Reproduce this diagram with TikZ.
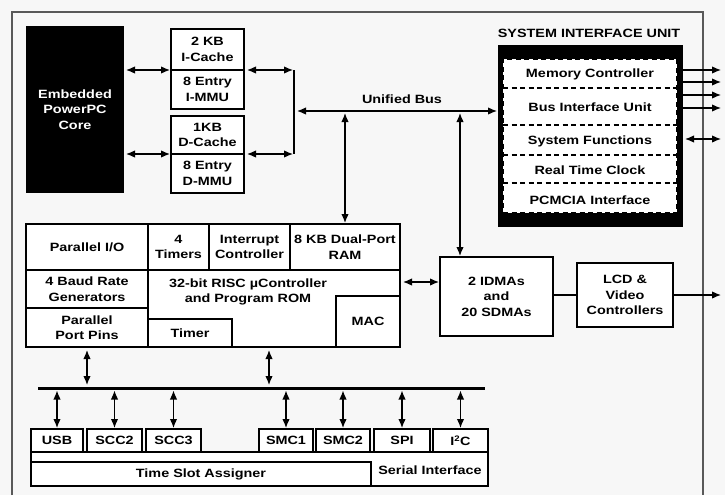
\documentclass[tikz,border=0pt]{standalone}
\usepackage{fontspec}
\setmainfont[FakeStretch=1.2]{Liberation Sans}
\usetikzlibrary{arrows.meta,calc}

\begin{document}
\begin{tikzpicture}[x=1pt,y=-1pt,
  every node/.style={font=\fontsize{12}{15.5}\selectfont\bfseries, align=center, inner sep=0pt, outer sep=0pt},
  box/.style={draw, rectangle, line width=1.3pt, fill=white},
  txt/.style={rectangle},
  conn/.style={line width=1.3pt, {Latex[length=9pt,width=7.5pt]}-{Latex[length=9pt,width=7.5pt]}},
  oneway/.style={line width=1.3pt, -{Latex[length=9pt,width=7.5pt]}},
  frameline/.style={draw=black!65, line width=1.3pt},
  divider/.style={line width=1.3pt, dash pattern=on 5pt off 3.5pt}
]
% canvas
\fill[black!3] (0,0) rectangle (725,495);
\useasboundingbox (0,0) rectangle (725,495);

% chip outline (open at the bottom)
\draw[frameline] (12,495) -- (12,12) -- (703,12) -- (703,495);

% ---------- processor core and caches ----------
\node[box, fill=black, minimum width=96, minimum height=165] (core) at (75,109.5)
  {\textcolor{white}{Embedded}\\\textcolor{white}{PowerPC}\\\textcolor{white}{Core}};

\node[box, minimum width=73, minimum height=41] (icache) at (207.5,49.5) {2 KB\\I-Cache};
\node[box, minimum width=73, minimum height=39] (immu)   at (207.5,89.5) {8 Entry\\I-MMU};
\node[box, minimum width=73, minimum height=38] (dcache) at (207.5,135)  {1KB\\D-Cache};
\node[box, minimum width=73, minimum height=39] (dmmu)   at (207.5,173.5) {8 Entry\\D-MMU};

\draw[conn, shorten <=3pt, shorten >=1pt] (core.east |- icache.south west) -- (icache.south west);
\draw[conn, shorten <=3pt, shorten >=1pt] (core.east |- dcache.south west) -- (dcache.south west);

\coordinate (brT) at (294,70);
\coordinate (brB) at (294,154);
\coordinate (ubL) at (294,111);
\draw[conn, shorten <=3pt, shorten >=1pt] (icache.south east) -- (brT);
\draw[conn, shorten <=3pt, shorten >=1pt] (dcache.south east) -- (brB);
\draw[line width=1.3pt] (brT) -- (brB);

% ---------- system interface unit ----------
\node[txt] (siutitle) at (589,33) {SYSTEM INTERFACE UNIT};
\node[rectangle, fill=black, minimum width=185, minimum height=182] (siu) at (590.5,136) {};
\node[rectangle, fill=white, draw, divider, minimum width=174, minimum height=154] (siuin) at (590,136) {};
\draw[divider] (siuin.west |- 0,88)  -- (siuin.east |- 0,88);
\draw[divider] (siuin.west |- 0,125) -- (siuin.east |- 0,125);
\draw[divider] (siuin.west |- 0,155) -- (siuin.east |- 0,155);
\draw[divider] (siuin.west |- 0,183) -- (siuin.east |- 0,183);
\node[txt] (memctl) at (590,74)  {Memory Controller};
\node[txt] (biu)    at (590,107) {Bus Interface Unit};
\node[txt] (sysfn)  at (590,141) {System Functions};
\node[txt] (rtc)    at (590,170) {Real Time Clock};
\node[txt] (pcmcia) at (590,200) {PCMCIA Interface};

% external pins
\coordinate (pinA) at (721,70);
\coordinate (pinB) at (721,82);
\coordinate (pinC) at (721,95);
\coordinate (pinD) at (721,108);
\coordinate (pinE) at (721,139);
\draw[oneway] (siu.east |- pinA) -- (pinA);
\draw[oneway] (siu.east |- pinB) -- (pinB);
\draw[oneway] (siu.east |- pinC) -- (pinC);
\draw[oneway] (siu.east |- pinD) -- (pinD);
\draw[conn, shorten <=2pt] (siu.east |- pinE) -- (pinE);

% unified bus
\draw[conn, shorten <=3pt, shorten >=1pt] (ubL) -- (ubL -| siu.west);
\node[txt] (ublabel) at (402,99) {Unified Bus};

% ---------- communication processor ----------
\node[box, minimum width=374, minimum height=123] (cpm) at (213,285.5) {};
\node[box, minimum width=122, minimum height=46] (pio)   at (87,247)    {Parallel I/O};
\node[box, minimum width=61,  minimum height=46] (tmr4)  at (178.5,247) {4\\Timers};
\node[box, minimum width=81,  minimum height=46] (intc)  at (249.5,247) {Interrupt\\Controller};
\node[box, minimum width=110, minimum height=46] (ram)   at (345,247)   {8 KB Dual-Port\\RAM};
\node[box, minimum width=122, minimum height=38] (brg)   at (87,289)    {4 Baud Rate\\Generators};
\node[box, minimum width=122, minimum height=39] (ppp)   at (87,327.5)  {Parallel\\Port Pins};
\node[box, minimum width=84,  minimum height=28] (timer) at (190,333)   {Timer};
\node[box, minimum width=64,  minimum height=51] (mac)   at (368,321.5) {MAC};
\node[txt] (risc) at (248,292) {32-bit RISC µController\\and Program ROM};

\coordinate (ub1) at (345,111);
\draw[conn, shorten <=2pt, shorten >=1pt] (ub1) -- (ub1 |- ram.north);

% ---------- DMA and LCD ----------
\node[box, minimum width=113, minimum height=79] (idma) at (496.5,296.5) {2 IDMAs\\and\\20 SDMAs};
\node[box, minimum width=96,  minimum height=64] (lcd)  at (625,295) {LCD \&\\Video\\Controllers};

\coordinate (ub2) at (460,111);
\coordinate (dmaIn) at (403,282);
\draw[conn, shorten <=2pt, shorten >=1pt] (ub2) -- (ub2 |- idma.north);
\draw[conn, shorten <=3pt, shorten >=1pt] (cpm.east |- dmaIn) -- (dmaIn -| idma.west);
\draw[line width=1.3pt] (lcd.west) -- (lcd.west -| idma.east);
\coordinate (pinF) at (721,295);
\draw[oneway] (lcd.east) -- (pinF);

% ---------- peripheral bus and serial channels ----------
\coordinate (busL) at (38,388);
\coordinate (busR) at (485,388);
\draw[line width=3pt] (busL) -- (busR);

\coordinate (tap1) at (87,388);
\coordinate (tap2) at (269,388);
\draw[conn, shorten <=3pt, shorten >=3pt] (tap1 |- cpm.south) -- (tap1);
\draw[conn, shorten <=3pt, shorten >=3pt] (tap2 |- cpm.south) -- (tap2);

\node[box, minimum width=457, minimum height=34] (si)  at (259.5,469) {};
\node[box, minimum width=340, minimum height=24] (tsa) at (201,474) {Time Slot Assigner};
\node[txt] (silabel) at (430,470) {Serial Interface};

\node[box, minimum width=52, minimum height=23] (usb)  at (57,440.5)    {USB};
\node[box, minimum width=55, minimum height=23] (scc2) at (114.5,440.5) {SCC2};
\node[box, minimum width=55, minimum height=23] (scc3) at (173.5,440.5) {SCC3};
\node[box, minimum width=54, minimum height=23] (smc1) at (286,440.5)   {SMC1};
\node[box, minimum width=54, minimum height=23] (smc2) at (343,440.5)   {SMC2};
\node[box, minimum width=56, minimum height=23] (spi)  at (402,440.5)   {SPI};
\node[box, minimum width=55, minimum height=23] (iic)  at (460.5,440.5) {I\textsuperscript{2}C};

\foreach \p in {usb,scc2,scc3,smc1,smc2,spi,iic}
  \draw[conn, shorten <=2.5pt, shorten >=1pt] (\p.north |- busL) -- (\p.north);
\end{tikzpicture}
\end{document}
